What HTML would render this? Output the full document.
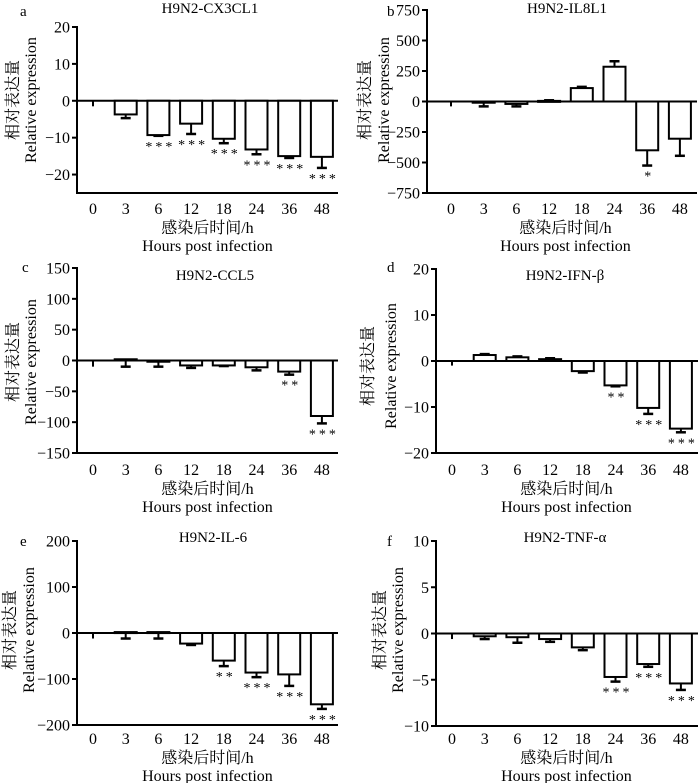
<!DOCTYPE html>
<html><head><meta charset="utf-8"><style>
html,body{margin:0;padding:0;background:#fff;}
svg{display:block;font-family:"Liberation Serif","Noto Serif CJK SC",serif;}
</style></head><body>
<svg id="fig" width="700" height="783" viewBox="0 0 700 783" xmlns="http://www.w3.org/2000/svg"></svg>
<script>
const categories = ["0","3","6","12","18","24","36","48"];
const aValues = [0,-3.7,-9.3,-6.2,-10.3,-13.2,-15.0,-15.2];
const aErrors = [-1.5,-4.7,-9.5,-9.0,-11.5,-14.5,-15.5,-18.2];
const aStars = ["","","***","***","***","***","***","***"];
const aTicks = [20,10,0,-10,-20];
const bValues = [0,-10,-20,5,110,285,-400,-305];
const bErrors = [-40,-40,-40,10,120,330,-525,-445];
const bStars = ["","","","","","","*",""];
const bTicks = [750,500,250,0,-250,-500,-750];
const cValues = [0,2,-2,-8,-8,-11,-18,-90];
const cErrors = [-10,-10,-10,-12,-9,-16,-23,-102];
const cStars = ["","","","","","","**","***"];
const cTicks = [150,100,50,0,-50,-100,-150];
const dValues = [0,1.3,0.8,0.4,-2.2,-5.3,-10.2,-14.7];
const dErrors = [-1,1.5,1.0,0.6,-2.5,-5.5,-11.5,-15.5];
const dStars = ["","","","","","**","***","***"];
const dTicks = [20,10,0,-10,-20];
const eValues = [0,2,2,-23,-60,-86,-90,-155];
const eErrors = [-12,-12,-12,-26,-72,-96,-115,-165];
const eStars = ["","","","","**","***","***","***"];
const eTicks = [200,100,0,-100,-200];
const fValues = [0,-0.3,-0.4,-0.6,-1.5,-4.7,-3.3,-5.4];
const fErrors = [-0.6,-0.6,-1.0,-0.9,-1.8,-5.2,-3.6,-6.1];
const fStars = ["","","","","","***","***","***"];
const fTicks = [10,5,0,-5,-10];

const panels = [
 {id:"a",title:"H9N2-CX3CL1",vals:aValues,errs:aErrors,stars:aStars,ticks:aTicks,ymax:20,ymin:-25,top:27,bot:193,ax:77,x0:93,xend:338,tx:210,ty:13,lx:20,ly:16,yt1:13,yt2:31,ytc:100,xl:214},
 {id:"b",title:"H9N2-IL8L1",vals:bValues,errs:bErrors,stars:bStars,ticks:bTicks,ymax:750,ymin:-750,top:10,bot:193,ax:427,x0:451,xend:697,tx:567,ty:13,lx:387,ly:16,yt1:365,yt2:384,ytc:100,xl:214},
 {id:"c",title:"H9N2-CCL5",vals:cValues,errs:cErrors,stars:cStars,ticks:cTicks,ymax:150,ymin:-150,top:268,bot:453,ax:77,x0:93,xend:338,tx:215,ty:280,lx:22,ly:272,yt1:13,yt2:31,ytc:362,xl:475},
 {id:"d",title:"H9N2-IFN-β",vals:dValues,errs:dErrors,stars:dStars,ticks:dTicks,ymax:20,ymin:-20,top:269,bot:453,ax:436,x0:452,xend:698,tx:565,ty:280,lx:387,ly:272,yt1:368,yt2:391,ytc:366,xl:475},
 {id:"e",title:"H9N2-IL-6",vals:eValues,errs:eErrors,stars:eStars,ticks:eTicks,ymax:200,ymin:-200,top:541,bot:725,ax:77,x0:93,xend:338,tx:213,ty:542,lx:20,ly:546,yt1:10,yt2:29,ytc:630,xl:744},
 {id:"f",title:"H9N2-TNF-α",vals:fValues,errs:fErrors,stars:fStars,ticks:fTicks,ymax:10,ymin:-10,top:541,bot:726,ax:436,x0:452,xend:698,tx:565,ty:542,lx:387,ly:546,yt1:380,yt2:398,ytc:630,xl:744}
];
const NS="http://www.w3.org/2000/svg";
const svg=document.getElementById("fig");
function mk(tag,attrs,parent,text){const e=document.createElementNS(NS,tag);for(const k in attrs)e.setAttribute(k,attrs[k]);if(text!==undefined)e.textContent=text;parent.appendChild(e);return e;}
panels.forEach(p=>{
 const g=mk("g",{},svg);
 
 
 const y=v=>p.top+(p.ymax-v)/(p.ymax-p.ymin)*(p.bot-p.top);
 const xc=i=>p.x0+i*32.7;
 const t1=mk("text",{x:p.lx,y:p.ly,"font-size":15},g,p.id);
 
 
 const t2=mk("text",{x:p.tx,y:p.ty,"font-size":15,"text-anchor":"middle"},g,p.title);
 
 
 const ya=mk("line",{x1:p.ax,x2:p.ax,y1:p.top-1,y2:p.bot+1,stroke:"#000","stroke-width":2},g);
 
 
 p.ticks.forEach(t=>{
  mk("line",{x1:p.ax-5,x2:p.ax,y1:y(t),y2:y(t),stroke:"#000","stroke-width":2},g);
  const tl=mk("text",{x:p.ax-7,y:y(t)+5.5,"font-size":16,"text-anchor":"end"},g,t<0?"\u2212"+(-t):String(t));
  
  
 });
 const xa=mk("line",{x1:p.ax,x2:p.xend,y1:p.bot,y2:p.bot,stroke:"#000","stroke-width":2},g);
 
 
 const zl=mk("line",{x1:p.ax,x2:p.xend,y1:y(0),y2:y(0),stroke:"#000","stroke-width":2},g);
 
 
 categories.forEach((c,i)=>{
  const cx=xc(i),v=p.vals[i],e=p.errs[i];
  const y0=y(0),yv=y(v);
  const er=mk("line",{x1:cx,x2:cx,y1:yv,y2:y(e),stroke:"#000","stroke-width":2},g);
  
  
  if(i>0) mk("line",{x1:cx-5,x2:cx+5,y1:y(e),y2:y(e),stroke:"#000","stroke-width":2.5},g);
  if(v!==0){
   const r=mk("rect",{x:cx-11,y:Math.min(y0,yv),width:22,height:Math.max(Math.abs(yv-y0),1),fill:"#fff",stroke:"#000","stroke-width":2},g);
   
   
  }
  if(p.stars[i]){
   const sy=y(Math.min(e,v))+15;
   const st=mk("text",{x:cx+2,y:sy,"font-size":14,"text-anchor":"middle","letter-spacing":"3"},g,p.stars[i]);
   
   
  }
  const xl=mk("text",{x:cx,y:p.xl,"font-size":16,"text-anchor":"middle"},g,c);
  
  
 });
 const midx=(p.x0+xc(7))/2;
 const x1=mk("text",{x:midx,y:p.xl+19,"font-size":16,"text-anchor":"middle"},g,"感染后时间/h");
 
 
 const x2=mk("text",{x:midx,y:p.xl+37,"font-size":16,"text-anchor":"middle"},g,"Hours post infection");
 
 
 const y1=mk("text",{x:0,y:0,"font-size":16,"text-anchor":"middle",transform:`translate(${p.yt1+5},${p.ytc}) rotate(-90)`},g,"相对表达量");
 
 
 const y2=mk("text",{x:0,y:0,"font-size":16,"text-anchor":"middle",transform:`translate(${p.yt2+5},${p.ytc}) rotate(-90)`},g,"Relative expression");
 
 
});
</script>
</body></html>
